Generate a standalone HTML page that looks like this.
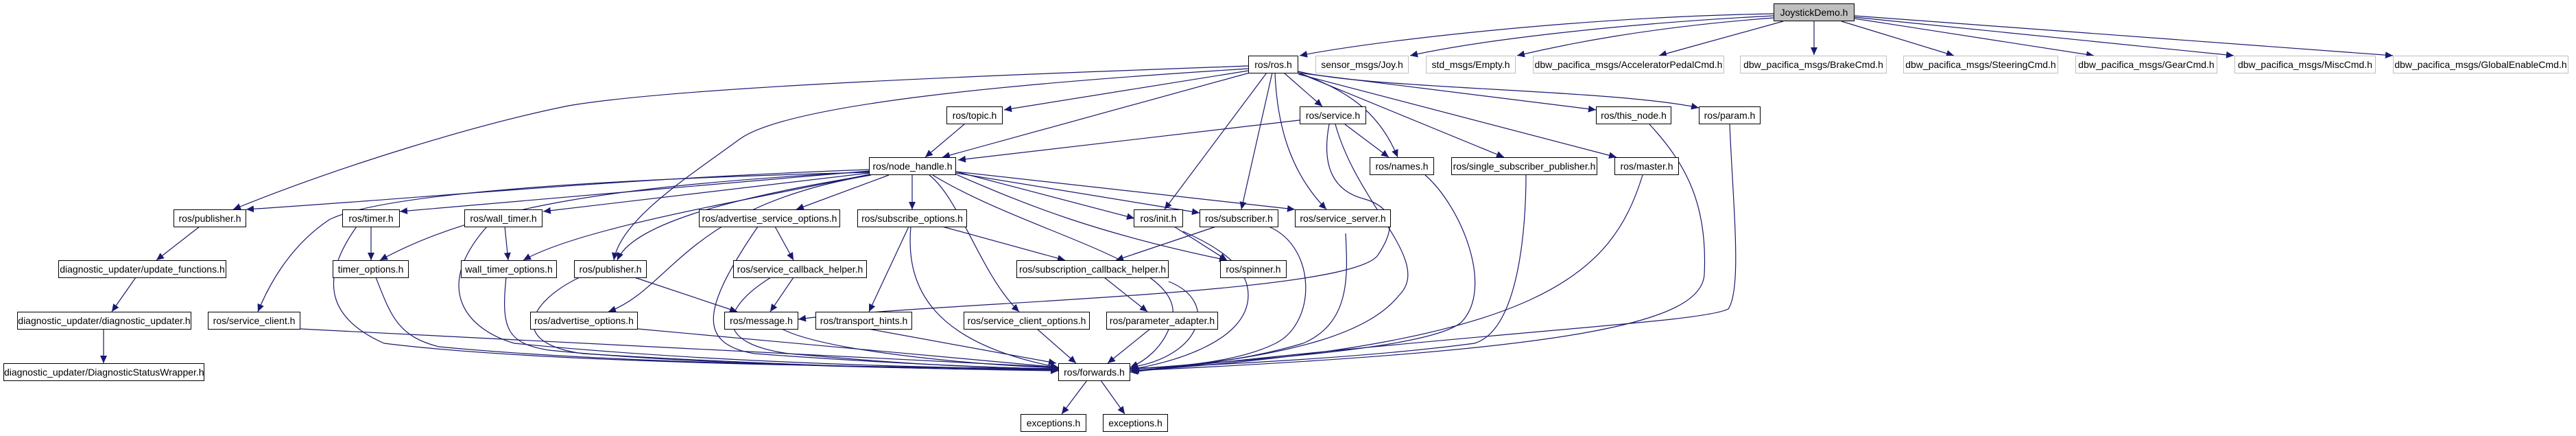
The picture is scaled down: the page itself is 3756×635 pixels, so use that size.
<!DOCTYPE html>
<html><head><meta charset="utf-8"><style>
html,body{margin:0;padding:0;background:#fff;}
#c{position:relative;width:3756px;height:635px;overflow:hidden;}
svg{position:absolute;left:0;top:0;}
.n{position:absolute;box-sizing:border-box;border:1px solid #000;background:#fff;font-family:"Liberation Sans",sans-serif;font-size:14px;text-align:center;white-space:nowrap;height:26px;line-height:24px;color:#000;}
.g{border-color:#bfbfbf;}
.r{background:#bfbfbf;}
</style></head><body><div id="c">
<svg width="3756" height="635" viewBox="0 0 3756 635">
<defs><marker id="a" markerUnits="userSpaceOnUse" markerWidth="12" markerHeight="12" refX="11" refY="5" orient="auto"><path d="M0,0 L11,5 L0,10 z" fill="#191970"/></marker></defs>
<g fill="none" stroke="#191970" stroke-width="1.2" marker-end="url(#a)">
<path d="M2586,20 C2300,25 2000,60 1895,81"/>
<path d="M2586,23 C2350,35 2150,60 2056,81"/>
<path d="M2586,26 C2400,40 2280,65 2212,81"/>
<path d="M2600,31 L2419,81"/>
<path d="M2645,31 L2645,80"/>
<path d="M2685,31 L2849,81"/>
<path d="M2704,27 L3053,81"/>
<path d="M2704,25 L3257,81"/>
<path d="M2704,23 L3489,81"/>
<path d="M1820,96 C1500,108 1000,125 829,154 C700,180 500,240 340,305"/>
<path d="M1820,100 C1500,120 1150,150 1078,203 C1000,260 905,320 895,379"/>
<path d="M1820,103 L1464,160"/>
<path d="M1822,106 L1374,229"/>
<path d="M1847,106 L1698,305"/>
<path d="M1855,106 L1810,305"/>
<path d="M1859,106 C1862,180 1880,250 1934,305"/>
<path d="M1872,106 L1928,155"/>
<path d="M1893,106 C1960,130 2010,160 2038,229"/>
<path d="M1893,106 L2327,160"/>
<path d="M1893,104 C2000,130 2350,130 2477,157"/>
<path d="M1893,106 L2193,229"/>
<path d="M1893,108 L2357,229"/>
<path d="M1406,181 L1349,229"/>
<path d="M1895,175 L1397,233"/>
<path d="M1961,181 L2025,229"/>
<path d="M1938,181 C1925,250 1950,280 1990,290 C2040,305 2030,340 2010,370 C1980,430 1350,440 1164,465"/>
<path d="M1947,181 C1980,300 2090,380 2040,430 C2000,480 1900,520 1648,540"/>
<path d="M2405,181 C2460,240 2490,300 2485,400 C2480,470 2300,510 1648,540"/>
<path d="M2522,181 C2527,300 2540,420 2520,450 C2480,470 2200,480 1648,542"/>
<path d="M2078,255 C2130,300 2180,420 2130,470 C2080,510 1800,525 1648,538"/>
<path d="M2225,255 C2225,330 2215,480 2150,500 C2000,520 1800,530 1648,537"/>
<path d="M2395,255 C2350,400 2250,500 1650,540"/>
<path d="M1267,247 C900,260 600,290 359,305"/>
<path d="M1267,249 L583,308"/>
<path d="M1267,250 C900,270 700,300 554,379"/>
<path d="M1267,251 C900,260 560,280 480,320 C420,360 390,420 376,454"/>
<path d="M1267,252 L792,308"/>
<path d="M1267,254 C1100,290 850,330 763,379"/>
<path d="M1268,255 C1050,290 920,330 900,379"/>
<path d="M1270,255 C1000,300 980,420 887,454"/>
<path d="M1296,255 L1161,305"/>
<path d="M1330,255 L1330,305"/>
<path d="M1394,250 L1654,318"/>
<path d="M1394,252 L1749,310"/>
<path d="M1394,250 L1888,305"/>
<path d="M1394,254 C1500,300 1600,340 1789,379"/>
<path d="M1355,255 C1400,290 1430,400 1486,454"/>
<path d="M1360,255 C1500,340 1720,380 1710,460 C1700,510 1660,530 1648,535"/>
<path d="M1374,330 L1553,379"/>
<path d="M1325,330 L1267,454"/>
<path d="M1328,330 C1320,420 1360,500 1543,535"/>
<path d="M1712,330 L1789,379"/>
<path d="M1725,337 C1800,370 1820,400 1820,430 C1820,500 1700,530 1648,538"/>
<path d="M1773,330 L1627,379"/>
<path d="M1850,330 C1920,360 1920,470 1860,500 C1800,530 1700,535 1648,537"/>
<path d="M1962,340 C1965,400 1970,470 1900,500 C1800,530 1700,535 1648,537"/>
<path d="M1610,404 L1673,454"/>
<path d="M1704,410 C1780,440 1750,520 1648,535"/>
<path d="M1512,479 L1569,529"/>
<path d="M1677,479 L1615,529"/>
<path d="M1266,479 L1540,529"/>
<path d="M1585,554 L1548,603"/>
<path d="M1605,554 L1640,603"/>
<path d="M291,330 L228,379"/>
<path d="M198,404 L163,454"/>
<path d="M151,479 L151,529"/>
<path d="M541,330 L541,379"/>
<path d="M520,330 C470,400 470,460 560,500 C800,530 1300,535 1543,537"/>
<path d="M736,330 L741,379"/>
<path d="M710,330 C630,420 680,480 750,500 C1000,525 1300,535 1543,538"/>
<path d="M548,404 C570,460 580,490 640,505 C900,530 1300,535 1543,538"/>
<path d="M738,404 C730,480 740,500 800,510 C1000,530 1300,537 1543,539"/>
<path d="M925,404 L1075,454"/>
<path d="M845,404 C770,440 740,500 850,515 C1100,530 1300,537 1543,540"/>
<path d="M930,479 L1543,535"/>
<path d="M438,479 L1543,535"/>
<path d="M1130,330 L1157,379"/>
<path d="M1105,330 C1030,440 1010,500 1100,515 C1300,530 1450,535 1543,538"/>
<path d="M1157,404 L1123,454"/>
<path d="M1124,404 C1050,450 1040,500 1150,515 C1350,533 1450,536 1543,537"/>
<path d="M1140,479 C1200,510 1400,530 1543,536"/>
</g></svg>
<div class="n r" style="left:2586px;top:5px;width:118px">JoystickDemo.h</div>
<div class="n" style="left:1820px;top:81px;width:73px">ros/ros.h</div>
<div class="n g" style="left:1918px;top:81px;width:136px">sensor_msgs/Joy.h</div>
<div class="n g" style="left:2079px;top:81px;width:131px">std_msgs/Empty.h</div>
<div class="n g" style="left:2235px;top:81px;width:279px">dbw_pacifica_msgs/AcceleratorPedalCmd.h</div>
<div class="n g" style="left:2537px;top:81px;width:214px">dbw_pacifica_msgs/BrakeCmd.h</div>
<div class="n g" style="left:2775px;top:81px;width:226px">dbw_pacifica_msgs/SteeringCmd.h</div>
<div class="n g" style="left:3026px;top:81px;width:207px">dbw_pacifica_msgs/GearCmd.h</div>
<div class="n g" style="left:3258px;top:81px;width:206px">dbw_pacifica_msgs/MiscCmd.h</div>
<div class="n g" style="left:3489px;top:81px;width:256px">dbw_pacifica_msgs/GlobalEnableCmd.h</div>
<div class="n" style="left:1380px;top:155px;width:82px">ros/topic.h</div>
<div class="n" style="left:1895px;top:155px;width:97px">ros/service.h</div>
<div class="n" style="left:2327px;top:155px;width:110px">ros/this_node.h</div>
<div class="n" style="left:2477px;top:155px;width:90px">ros/param.h</div>
<div class="n" style="left:1267px;top:229px;width:127px">ros/node_handle.h</div>
<div class="n" style="left:1997px;top:229px;width:94px">ros/names.h</div>
<div class="n" style="left:2116px;top:229px;width:213px">ros/single_subscriber_publisher.h</div>
<div class="n" style="left:2354px;top:229px;width:94px">ros/master.h</div>
<div class="n" style="left:253px;top:305px;width:106px">ros/publisher.h</div>
<div class="n" style="left:499px;top:305px;width:84px">ros/timer.h</div>
<div class="n" style="left:677px;top:305px;width:114px">ros/wall_timer.h</div>
<div class="n" style="left:1019px;top:305px;width:206px">ros/advertise_service_options.h</div>
<div class="n" style="left:1250px;top:305px;width:160px">ros/subscribe_options.h</div>
<div class="n" style="left:1653px;top:305px;width:72px">ros/init.h</div>
<div class="n" style="left:1749px;top:305px;width:115px">ros/subscriber.h</div>
<div class="n" style="left:1888px;top:305px;width:140px">ros/service_server.h</div>
<div class="n" style="left:85px;top:379px;width:245px">diagnostic_updater/update_functions.h</div>
<div class="n" style="left:485px;top:379px;width:111px">timer_options.h</div>
<div class="n" style="left:672px;top:379px;width:140px">wall_timer_options.h</div>
<div class="n" style="left:837px;top:379px;width:106px">ros/publisher.h</div>
<div class="n" style="left:1069px;top:379px;width:195px">ros/service_callback_helper.h</div>
<div class="n" style="left:1482px;top:379px;width:222px">ros/subscription_callback_helper.h</div>
<div class="n" style="left:1779px;top:379px;width:97px">ros/spinner.h</div>
<div class="n" style="left:25px;top:454px;width:254px">diagnostic_updater/diagnostic_updater.h</div>
<div class="n" style="left:303px;top:454px;width:135px">ros/service_client.h</div>
<div class="n" style="left:773px;top:454px;width:157px">ros/advertise_options.h</div>
<div class="n" style="left:1056px;top:454px;width:108px">ros/message.h</div>
<div class="n" style="left:1189px;top:454px;width:141px">ros/transport_hints.h</div>
<div class="n" style="left:1405px;top:454px;width:184px">ros/service_client_options.h</div>
<div class="n" style="left:1613px;top:454px;width:163px">ros/parameter_adapter.h</div>
<div class="n" style="left:5px;top:529px;width:293px">diagnostic_updater/DiagnosticStatusWrapper.h</div>
<div class="n" style="left:1543px;top:529px;width:105px">ros/forwards.h</div>
<div class="n" style="left:1488px;top:603px;width:96px">exceptions.h</div>
<div class="n" style="left:1608px;top:603px;width:95px">exceptions.h</div>
</div></body></html>
